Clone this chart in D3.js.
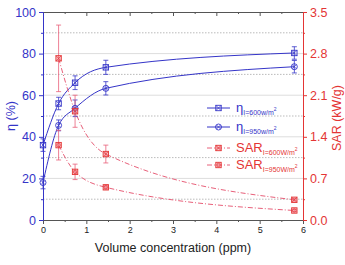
<!DOCTYPE html>
<html><head><meta charset="utf-8">
<script src="https://cdn.jsdelivr.net/npm/d3@7"></script>
<style>body{margin:0;background:#fff}svg{font-family:"Liberation Sans",Arial,sans-serif}</style>
</head><body><svg id="c" width="345" height="265"></svg>
<script>
const conc = [0, 0.36, 0.74, 1.45, 5.8];
const eta600 = [36, 56, 66, 73.4, 80.3];
const eta600Err = [3, 3, 3.3, 3.4, 3];
const eta950 = [18, 45.5, 53.7, 63.3, 73.7];
const eta950Err = [3, 2.6, 4, 3.2, 3];
const sarConc = [0.36, 0.74, 1.45, 5.8];
const sar600 = [2.72, 1.83, 1.11, 0.34];
const sar600Err = [0.56, 0.27, 0.15, 0.02];
const sar950 = [1.26, 0.81, 0.55, 0.16];
const sar950Err = [0.25, 0.13, 0.03, 0.02];
const xTicks = [0,1,2,3,4,5,6];
const yLTicks = [0,20,40,60,80,100];
const yRTicks = [0,0.7,1.4,2.1,2.8,3.5];

const blue = "#3535c8", red = "#e43535", redL = "#e8607a", gray = "#555";
const svg = d3.select("#c");
const x = d3.scaleLinear([0,6],[43,303]);
const yL = d3.scaleLinear([0,100],[220,12]);
const yR = d3.scaleLinear([0,3.5],[220,12]);

// grid
const g = svg.append("g");
d3.range(10,100,20).forEach(v=>g.append("line").attr("x1",43).attr("x2",303).attr("y1",yL(v)).attr("y2",yL(v)).attr("stroke","#aaa").attr("stroke-width",0.8).attr("stroke-dasharray","1.5,1.5"));
[20,40,60,80].forEach(v=>g.append("line").attr("x1",43).attr("x2",303).attr("y1",yL(v)).attr("y2",yL(v)).attr("stroke","#ddd").attr("stroke-width",1));

function styleAxis(sel,color,fs){
  sel.selectAll("path").attr("stroke",color);
  sel.selectAll("line").attr("stroke",color);
  sel.selectAll("text").attr("fill",color).attr("font-size",fs).attr("font-family","Liberation Sans, Arial, sans-serif");
}
// bottom axis
const bx = svg.append("g").attr("transform","translate(0,220)");
bx.call(d3.axisBottom(x).tickValues(xTicks).tickFormat(d3.format("d")).tickSize(4).tickSizeOuter(0).tickPadding(3));
styleAxis(bx,gray,9);
bx.selectAll("text").attr("fill","#222");
svg.append("g").attr("transform","translate(0,220)").call(d3.axisBottom(x).tickValues(d3.range(0.5,6,1)).tickFormat("").tickSize(2).tickSizeOuter(0)).call(s=>{s.select("path").remove();s.selectAll("line").attr("stroke",gray);});
// top axis
const tx = svg.append("g").attr("transform","translate(0,12)");
tx.call(d3.axisBottom(x).tickValues(xTicks).tickFormat("").tickSize(4).tickSizeOuter(0));
styleAxis(tx,gray,9);
svg.append("g").attr("transform","translate(0,12)").call(d3.axisBottom(x).tickValues(d3.range(0.5,6,1)).tickFormat("").tickSize(2).tickSizeOuter(0)).call(s=>{s.select("path").remove();s.selectAll("line").attr("stroke",gray);});
// left axis
const la = svg.append("g").attr("transform","translate(43,0)");
la.call(d3.axisLeft(yL).tickValues(yLTicks).tickSize(4).tickSizeOuter(0).tickPadding(3));
styleAxis(la,blue,12.5);
svg.append("g").attr("transform","translate(43,0)").call(d3.axisLeft(yL).tickValues(d3.range(10,100,20)).tickFormat("").tickSize(2).tickSizeOuter(0)).call(s=>{s.select("path").remove();s.selectAll("line").attr("stroke",blue);});
// right axis
const ra = svg.append("g").attr("transform","translate(303,0)");
ra.call(d3.axisRight(yR).tickValues(yRTicks).tickFormat(d3.format(".1f")).tickSize(4).tickSizeOuter(0).tickPadding(3));
styleAxis(ra,red,12.5);
svg.append("g").attr("transform","translate(303,0)").call(d3.axisRight(yR).tickValues(d3.range(0.35,3.5,0.7)).tickFormat("").tickSize(2).tickSizeOuter(0)).call(s=>{s.select("path").remove();s.selectAll("line").attr("stroke",red);});

// labels
svg.append("text").attr("transform","translate(15,116) rotate(-90)").attr("text-anchor","middle").attr("fill",blue).attr("font-size",12.5).text("η (%)");
svg.append("text").attr("transform","translate(341,118) rotate(-90)").attr("text-anchor","middle").attr("fill",red).attr("font-size",12.5).text("SAR (kW/g)");
svg.append("text").attr("x",173).attr("y",252).attr("text-anchor","middle").attr("fill","#222").attr("font-size",12.5).text("Volume concentration (ppm)");

// curves
function curve(xs,ys,ysc,color,dash){
  const line = d3.line().x((d,i)=>x(xs[i])).y(d=>ysc(d)).curve(d3.curveMonotoneX);
  svg.append("path").attr("d",line(ys)).attr("fill","none").attr("stroke",color).attr("stroke-width",1).attr("stroke-dasharray",dash||null);
}
curve(conc,eta600,yL,blue);
curve(conc,eta950,yL,blue);
curve(sarConc,sar600,yR,redL,"5,2,1,2");
curve(sarConc,sar950,yR,redL,"5,2,1,2");

function errbars(xs,ys,es,ysc,color){
  xs.forEach((xv,i)=>{
    const cx=x(xv), y1=ysc(ys[i]+es[i]), y2=ysc(ys[i]-es[i]);
    svg.append("line").attr("x1",cx).attr("x2",cx).attr("y1",y1).attr("y2",y2).attr("stroke",color).attr("stroke-width",0.8);
    [y1,y2].forEach(yy=>svg.append("line").attr("x1",cx-2.5).attr("x2",cx+2.5).attr("y1",yy).attr("y2",yy).attr("stroke",color).attr("stroke-width",0.8));
  });
}
errbars(conc,eta600,eta600Err,yL,blue);
errbars(conc,eta950,eta950Err,yL,blue);
errbars(sarConc,sar600,sar600Err,yR,redL);
errbars(sarConc,sar950,sar950Err,yR,redL);

function marker(cx,cy,type,color){
  const fill = color===red ? "rgba(240,120,130,0.45)" : "none";
  const m = svg.append("g").attr("transform",`translate(${cx},${cy})`);
  const s = 2.7;
  if(type==="sq"){
    m.append("rect").attr("x",-s).attr("y",-s).attr("width",2*s).attr("height",2*s).attr("fill",fill).attr("stroke",color).attr("stroke-width",0.9);
    m.append("path").attr("d",`M${-s},${-s}L${s},${s}M${-s},${s}L${s},${-s}`).attr("stroke",color).attr("stroke-width",0.7);
  } else if(type==="ci"){
    m.append("circle").attr("r",3).attr("fill",fill).attr("stroke",color).attr("stroke-width",0.9);
    m.append("path").attr("d","M-2,-2L2,2M-2,2L2,-2").attr("stroke",color).attr("stroke-width",0.7);
  } else {
    m.append("rect").attr("x",-s).attr("y",-s).attr("width",2*s).attr("height",2*s).attr("fill",fill).attr("stroke",color).attr("stroke-width",0.9);
    m.append("circle").attr("r",1.7).attr("fill","none").attr("stroke",color).attr("stroke-width",0.7);
  }
}
conc.forEach((c,i)=>marker(x(c),yL(eta600[i]),"sq",blue));
conc.forEach((c,i)=>marker(x(c),yL(eta950[i]),"ci",blue));
sarConc.forEach((c,i)=>marker(x(c),yR(sar600[i]),"sq",red));
sarConc.forEach((c,i)=>marker(x(c),yR(sar950[i]),"sc",red));

// legend
const leg = [
  {name:"η",sub:"I=600w/m",y:108,type:"sq",color:blue,dash:null},
  {name:"η",sub:"I=950w/m",y:127,type:"ci",color:blue,dash:null},
  {name:"SAR",sub:"I=600W/m",y:148,type:"sq",color:red,dash:"5,2,1,2"},
  {name:"SAR",sub:"I=950W/m",y:165,type:"sc",color:red,dash:"5,2,1,2"}
];
leg.forEach(l=>{
  svg.append("line").attr("x1",207).attr("x2",230).attr("y1",l.y).attr("y2",l.y).attr("stroke",l.color===red?redL:blue).attr("stroke-width",1).attr("stroke-dasharray",l.dash);
  marker(218.5,l.y,l.type,l.color);
  const t = svg.append("text").attr("x",236).attr("y",l.y+4).attr("fill",l.color).attr("font-size",13);
  t.append("tspan").text(l.name);
  t.append("tspan").attr("font-size",7).attr("dy",3).text(l.sub);
  t.append("tspan").attr("font-size",5).attr("dy",-4).text("2");
});
</script></body></html>
